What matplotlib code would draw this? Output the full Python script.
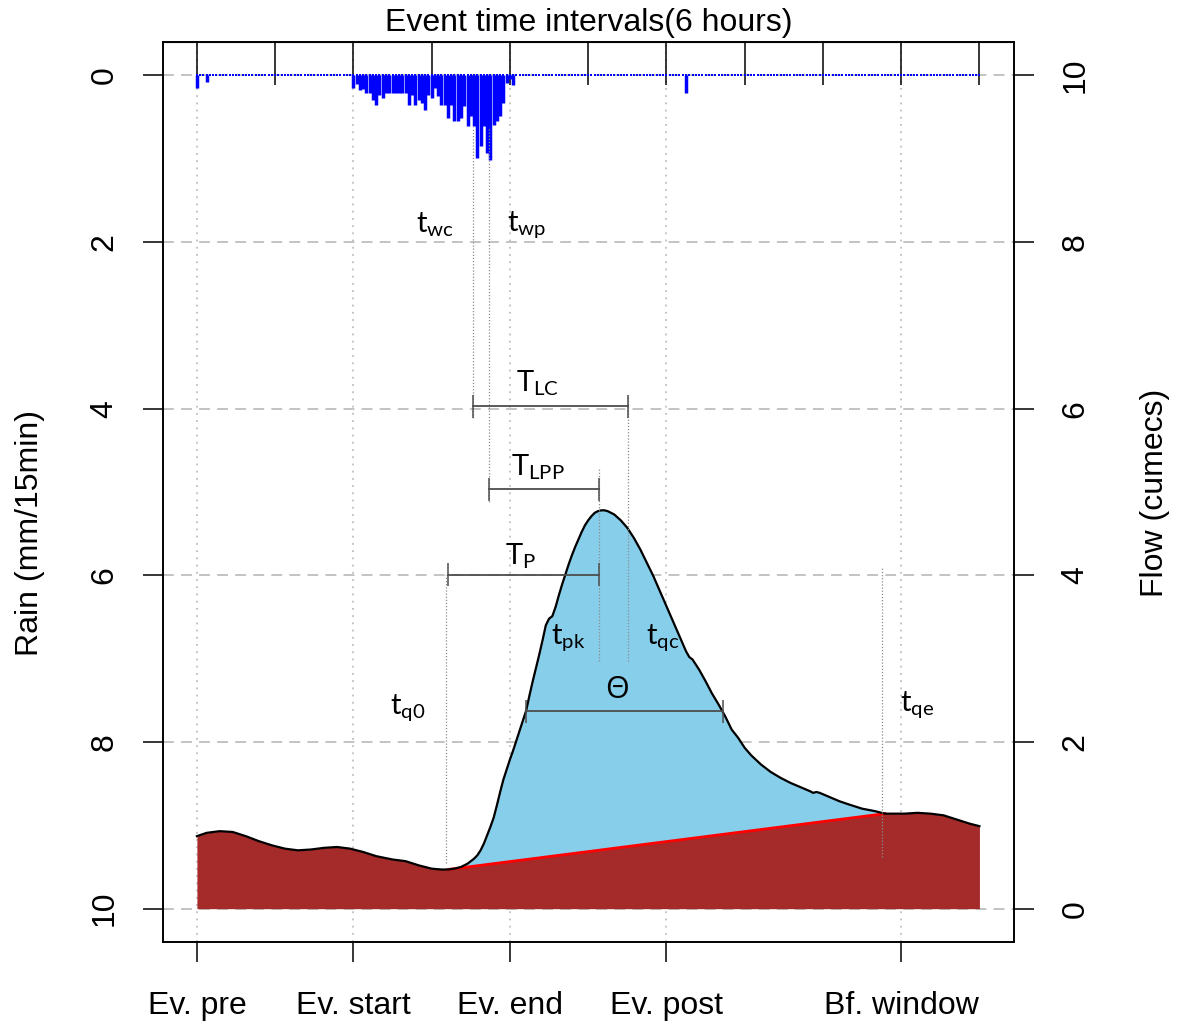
import numpy as np
import matplotlib
matplotlib.use("Agg")
import matplotlib.pyplot as plt

plt.rcParams["font.family"] = ["Liberation Sans", "DejaVu Sans"]
plt.rcParams["mathtext.fontset"] = "custom"
plt.rcParams["mathtext.rm"] = "Lato"
plt.rcParams["mathtext.it"] = "Lato:italic"

# time in 15-min steps, 0..240 (10 intervals of 6 hours)
n_steps = 240
event_ticks = [0, 48, 96, 144, 216]
event_labels = ["Ev. pre", "Ev. start", "Ev. end", "Ev. post", "Bf. window"]

# rain (mm/15min): main burst from step 48 plus a few isolated tips
rain_start = 48
rain_event = [0.15, 0.10, 0.17, 0.16, 0.21, 0.21, 0.30, 0.35, 0.23, 0.27,
              0.21, 0.21, 0.21, 0.21, 0.21, 0.21, 0.21, 0.35, 0.23, 0.35,
              0.29, 0.33, 0.41, 0.23, 0.27, 0.15, 0.25, 0.35, 0.35, 0.51,
              0.35, 0.55, 0.55, 0.51, 0.37, 0.61, 0.49, 0.61, 0.99, 0.85,
              0.61, 0.93, 1.02, 0.59, 0.55, 0.49, 0.33, 0.09, 0.04, 0.11]
rain_isolated_t = [0, 3, 150]
rain_isolated_v = [0.15, 0.08, 0.21]

# flow (cumecs)
flow_t = [0, 3, 7, 11, 15, 19, 23, 27, 31, 35, 39, 43, 47, 51, 55, 60, 64,
          68, 72, 75, 77, 79, 81, 83, 85, 86, 87, 88, 89, 90, 91, 92, 93, 94,
          95, 96, 97, 98, 99, 100, 101, 102, 103, 104, 105, 106, 107, 108,
          109, 110, 111, 112, 113, 114, 115, 116, 117, 118, 119, 120, 121,
          122, 123, 124, 125, 126, 127, 128, 130, 132, 134, 136, 138, 140,
          142, 144, 146, 148, 150, 151, 152, 154, 156, 158, 160, 162, 164,
          166, 168, 170, 173, 176, 179, 182, 185, 188, 189, 190, 191, 194,
          197, 200, 204, 208, 211, 214, 217, 221, 225, 229, 233, 237, 240]
flow_q = [0.87, 0.91, 0.93, 0.92, 0.87, 0.81, 0.76, 0.72, 0.70, 0.71, 0.73,
          0.74, 0.72, 0.68, 0.63, 0.59, 0.57, 0.52, 0.48, 0.47, 0.47, 0.48,
          0.50, 0.54, 0.60, 0.64, 0.70, 0.78, 0.88, 0.98, 1.09, 1.24, 1.40,
          1.55, 1.67, 1.79, 1.90, 2.02, 2.14, 2.26, 2.38, 2.56, 2.73, 2.89,
          3.05, 3.22, 3.40, 3.48, 3.51, 3.62, 3.76, 3.89, 4.01, 4.13, 4.24,
          4.34, 4.43, 4.52, 4.60, 4.66, 4.71, 4.75, 4.77, 4.78, 4.78, 4.77,
          4.75, 4.73, 4.66, 4.57, 4.45, 4.31, 4.15, 3.99, 3.81, 3.63, 3.45,
          3.27, 3.09, 3.02, 2.99, 2.87, 2.73, 2.58, 2.45, 2.31, 2.15, 2.05,
          1.93, 1.84, 1.73, 1.64, 1.57, 1.51, 1.46, 1.41, 1.39, 1.40, 1.39,
          1.34, 1.29, 1.25, 1.20, 1.17, 1.14, 1.14, 1.14, 1.15, 1.14, 1.12,
          1.07, 1.02, 0.99]

# event markers (steps) and flow levels
t_q0, q_q0 = 77, 0.47
t_qe, q_qe = 211, 1.14
t_wc, t_wp, t_pk, t_qc = 84.7, 89.5, 123.3, 132.2
theta_t = [100.9, 161.3]
theta_q = 2.37

rain = np.zeros(n_steps + 1)
rain[rain_start:rain_start + len(rain_event)] = rain_event
rain[rain_isolated_t] = rain_isolated_v
t_rain = np.arange(n_steps + 1)

flow_t = np.array(flow_t, dtype=float)
flow_q = np.array(flow_q)

fig = plt.figure(figsize=(11.77, 10.24), dpi=100)
ax = fig.add_axes([163 / 1177, 1 - 942 / 1024, 851 / 1177, 900 / 1024])
ax.set_xlim(-10.4, 250.6)
ax.set_ylim(10.4, -0.4)
ax2 = ax.twinx()
ax2.set_ylim(-0.4, 10.4)

# grid
grid_c = "#BEBEBE"
for y in range(0, 11, 2):
    ax.axhline(y, color=grid_c, lw=1.3, ls=(0, (6, 4)), zorder=0)
for x in event_ticks:
    ax.axvline(x, color=grid_c, lw=1.3, ls=(0, (1, 3)), zorder=0)

# rain hyetograph hanging from the top
ax.vlines(t_rain, 0, rain, color="blue", lw=2.5, zorder=2)
ax.plot(t_rain, np.zeros_like(rain), ls="none", marker="s", ms=1.7,
        mew=0, color="blue", zorder=2)

# hydrograph: baseflow (brown) and quickflow (light blue)
ax2.fill_between(flow_t, 0, flow_q, color="#A52A2A", lw=0, zorder=1)
ev = (flow_t >= t_q0) & (flow_t <= t_qe)
base_ev = np.interp(flow_t[ev], [t_q0, t_qe], [q_q0, q_qe])
ax2.fill_between(flow_t[ev], base_ev, flow_q[ev], color="skyblue", lw=0, zorder=2)
ax2.plot([t_q0, t_qe], [q_q0, q_qe], color="red", lw=2, zorder=3)
ax2.plot(flow_t, flow_q, color="black", lw=1.6, zorder=4)

# annotation guide lines
gl = dict(color="#8C8C8C", lw=0.9, ls=(0, (1, 1.5)), zorder=5)
ax2.vlines(t_wc, 5.89, 9.38, **gl)
ax2.vlines(t_wp, 4.88, 9.38, **gl)
ax2.vlines(t_pk, 2.97, 5.29, **gl)
ax2.vlines(t_qc, 2.97, 6.17, **gl)
ax2.vlines(t_q0 - 0.5, 0.55, 4.0, **gl)
ax2.vlines(t_qe - 1, 0.62, 4.09, **gl)

bar_c = "#4D4D4D"
cap = 0.14
def span(x0, x1, y):
    ax2.plot([x0, x1], [y, y], color=bar_c, lw=1.3, zorder=6)
    ax2.vlines([x0, x1], y - cap, y + cap, color=bar_c, lw=1.1, zorder=6)

span(t_wc, t_qc, 6.03)
span(t_wp, t_pk, 5.03)
span(t_q0, t_pk, 4.01)
span(theta_t[0], theta_t[1], theta_q)

lab = dict(ha="center", va="center", fontsize=21, zorder=7)
ax2.text(72.9, 8.21, r"$\mathrm{t_{wc}}$", **lab)
ax2.text(101.0, 8.21, r"$\mathrm{t_{wp}}$", **lab)
ax2.text(104.6, 6.3, r"$\mathrm{T_{LC}}$", **lab)
ax2.text(104.6, 5.3, r"$\mathrm{T_{LPP}}$", **lab)
ax2.text(99.2, 4.23, r"$\mathrm{T_{P}}$", **lab)
ax2.text(114.0, 3.25, r"$\mathrm{t_{pk}}$", **lab)
ax2.text(143.0, 3.25, r"$\mathrm{t_{qc}}$", **lab)
ax2.text(128.8, 2.62, "\u0398", ha="center", va="center", fontsize=22,
         family=["Open Sans", "DejaVu Sans"], zorder=7)
ax2.text(64.6, 2.41, r"$\mathrm{t_{q0}}$", **lab)
ax2.text(220.9, 2.45, r"$\mathrm{t_{qe}}$", **lab)

# axes, ticks
for a in (ax, ax2):
    for s in a.spines.values():
        s.set_linewidth(1.2)
ax.set_xticks(event_ticks, event_labels)
ax.tick_params(axis="x", length=14.4, width=1.1, labelsize=23, pad=21)
ax.set_yticks(range(0, 11, 2))
ax.tick_params(axis="y", left=True, right=False, length=14.4, width=1.1,
               labelsize=23, pad=17, labelrotation=90)
for t in ax.get_yticklabels():
    t.set_va("center")
ax2.set_yticks(range(0, 11, 2))
ax2.tick_params(axis="y", length=14.4, width=1.1, labelsize=23, pad=19,
                labelrotation=90)
for t in ax2.get_yticklabels():
    t.set_va("center")

sec = ax.secondary_xaxis("top")
sec.set_xticks(np.arange(0, n_steps + 1, 24))
sec.tick_params(direction="in", length=31, width=1.1, labeltop=False)

fig.text(588.5 / 1177, 1 - 23 / 1024, "Event time intervals(6 hours)",
         ha="center", va="center", fontsize=23)
fig.text(30 / 1177, 1 - 533 / 1024, "Rain (mm/15min)", rotation=90,
         ha="center", va="center", fontsize=23)
fig.text(1155 / 1177, 1 - 493 / 1024, "Flow (cumecs)", rotation=90,
         ha="center", va="center", fontsize=23)

fig.savefig("out.png", dpi=100)
